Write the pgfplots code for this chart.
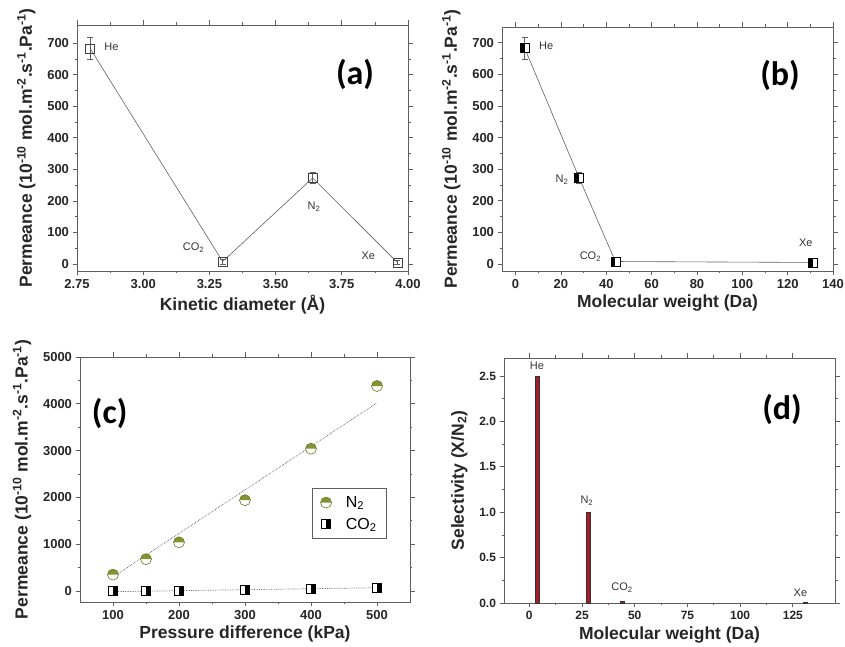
\documentclass[border=0pt]{standalone}
\usepackage{fontspec}
\setmainfont{Liberation Sans}
\newfontfamily\panelfont{Carlito}
\usepackage{pgfplots}
\pgfplotsset{compat=1.18}

\definecolor{axgray}{RGB}{95,95,95}
\definecolor{olive}{RGB}{128,148,48}
\definecolor{barred}{RGB}{165,28,40}

% half-filled marks
\pgfdeclareplotmark{sqleft}{%
  \pgfpathrectangle{\pgfpoint{-\pgfplotmarksize}{-\pgfplotmarksize}}{\pgfpoint{2\pgfplotmarksize}{2\pgfplotmarksize}}%
  \pgfsetfillcolor{white}\pgfusepath{fill}%
  \pgfpathrectangle{\pgfpoint{-\pgfplotmarksize}{-\pgfplotmarksize}}{\pgfpoint{\pgfplotmarksize}{2\pgfplotmarksize}}%
  \pgfsetfillcolor{black}\pgfusepath{fill}%
  \pgfpathrectangle{\pgfpoint{-\pgfplotmarksize}{-\pgfplotmarksize}}{\pgfpoint{2\pgfplotmarksize}{2\pgfplotmarksize}}%
  \pgfusepath{stroke}}
\pgfdeclareplotmark{sqright}{%
  \pgfpathrectangle{\pgfpoint{-\pgfplotmarksize}{-\pgfplotmarksize}}{\pgfpoint{2\pgfplotmarksize}{2\pgfplotmarksize}}%
  \pgfsetfillcolor{white}\pgfusepath{fill}%
  \pgfpathrectangle{\pgfpoint{0pt}{-\pgfplotmarksize}}{\pgfpoint{\pgfplotmarksize}{2\pgfplotmarksize}}%
  \pgfsetfillcolor{black}\pgfusepath{fill}%
  \pgfpathrectangle{\pgfpoint{-\pgfplotmarksize}{-\pgfplotmarksize}}{\pgfpoint{2\pgfplotmarksize}{2\pgfplotmarksize}}%
  \pgfusepath{stroke}}
\pgfdeclareplotmark{circtop}{%
  \pgfpathcircle{\pgfpointorigin}{\pgfplotmarksize}%
  \pgfsetfillcolor{white}\pgfusepath{fill}%
  \pgfpathmoveto{\pgfpoint{-\pgfplotmarksize}{0pt}}%
  \pgfpatharc{180}{0}{\pgfplotmarksize}%
  \pgfpathclose
  \pgfsetfillcolor{olive}\pgfusepath{fill}%
  \pgfpathcircle{\pgfpointorigin}{\pgfplotmarksize}%
  \pgfusepath{stroke}}

\tikzset{
  ann/.style={font=\fontsize{11}{11}\selectfont, text=black!80},
  plabel/.style={font=\panelfont\bfseries\fontsize{34}{34}\selectfont},
}

\pgfplotsset{
  panel/.style={
    scale only axis, width=331pt, height=245pt,
    axis line style={draw=axgray, line width=0.9pt},
    tick align=outside, major tick length=4.5pt, minor tick length=2.5pt,
    every tick/.style={axgray, line width=0.8pt},
    tick label style={font=\bfseries\fontsize{13}{13}\selectfont, text=black!85},
    label style={font=\bfseries\fontsize{17.5}{18}\selectfont, text=black!85},
    ylabel shift=5pt,
    /pgf/number format/assume math mode=true,
    /pgf/number format/1000 sep={},
    minor x tick num=1, minor y tick num=1,
    clip=false,
  },
  permlabel/.style={ylabel={Permeance (10\textsuperscript{-10} mol.m\textsuperscript{-2}.s\textsuperscript{-1}.Pa\textsuperscript{-1})}},
  errs/.style={error bars/.cd, y dir=both, y explicit,
    error bar style={axgray, line width=0.6pt}, error mark options={rotate=90, mark size=3pt, axgray, line width=0.6pt}},
}

\begin{document}
\begin{tikzpicture}
\path[use as bounding box] (0,0) rectangle (845pt,647pt);

% (a)
\begin{axis}[panel, at={(77pt,376pt)}, anchor=south west, height=246pt,
  xmin=2.75, xmax=4.0, ymin=-22, ymax=758,
  xtick={2.75,3.00,3.25,3.50,3.75,4.00},
  xticklabel style={/pgf/number format/.cd, fixed, fixed zerofill, precision=2},
  ytick={0,100,200,300,400,500,600,700},
  xlabel={Kinetic diameter (Å)}, permlabel]
\addplot[axgray, line width=0.6pt, mark=square, mark size=4.5pt,
  mark options={draw=black!75, fill=white, line width=0.6pt}, errs]
  coordinates {(2.80,683) +- (0,35) (3.30,8) +- (0,8) (3.64,273) +- (0,18) (3.96,5) +- (0,6)};
\node[ann] at (axis cs:2.88,690) {He};
\node[ann] at (axis cs:3.19,52) {CO\textsubscript{2}};
\node[ann] at (axis cs:3.645,181) {N\textsubscript{2}};
\node[ann] at (axis cs:3.85,26) {Xe};
\node[plabel] at (rel axis cs:0.84,0.8) {(a)};
\end{axis}

% (b)
\begin{axis}[panel, at={(502pt,376pt)}, anchor=south west, height=244pt,
  xmin=-6, xmax=140, ymin=-22, ymax=750,
  xtick={0,20,40,60,80,100,120,140},
  ytick={0,100,200,300,400,500,600,700},
  xlabel={Molecular weight (Da)}, permlabel]
\addplot[axgray, line width=0.6pt, mark=sqleft, mark size=4.5pt,
  mark options={draw=black, line width=0.6pt}, errs]
  coordinates {(4,683) +- (0,35) (28,273) +- (0,18) (44,8) +- (0,8) (131,5) +- (0,6)};
\node[ann] at (axis cs:13.5,690) {He};
\node[ann] at (axis cs:20.5,267) {N\textsubscript{2}};
\node[ann] at (axis cs:33,23) {CO\textsubscript{2}};
\node[ann] at (axis cs:128,68) {Xe};
\node[plabel] at (rel axis cs:0.84,0.8) {(b)};
\end{axis}

% (c)
\begin{axis}[panel, at={(80pt,45pt)}, anchor=south west, width=330pt,
  xmin=50, xmax=550, ymin=-235, ymax=5000,
  xtick={100,200,300,400,500}, ytick={0,1000,2000,3000,4000,5000},
  xlabel={Pressure difference (kPa)}, permlabel,
  legend style={at={(0.93,0.465)}, anchor=north east, draw=axgray, line width=0.6pt,
    font=\fontsize{16}{16}\selectfont, row sep=5pt, inner xsep=8pt, inner ysep=6pt,
    /tikz/every odd column/.style={column sep=12pt}},
  legend cell align=left]
\addplot[axgray, densely dotted, line width=0.7pt, forget plot] coordinates {(100,300) (500,4020)};
\addplot[axgray, densely dotted, line width=0.7pt, forget plot] coordinates {(100,-15) (500,70)};
\addplot[only marks, mark=circtop, mark size=5.5pt, mark options={draw=olive!80!black, line width=0.6pt}]
  coordinates {(100,350) (150,680) (200,1040) (300,1940) (400,3040) (500,4380)};
\addlegendentry{N\textsubscript{2}}
\addplot[only marks, mark=sqright, mark size=4.5pt, mark options={draw=black, line width=0.6pt}]
  coordinates {(100,0) (150,2) (200,8) (300,22) (400,42) (500,70)};
\addlegendentry{CO\textsubscript{2}}
\node[plabel] at (rel axis cs:0.09,0.77) {(c)};
\end{axis}

% (d)
\begin{axis}[panel, at={(504pt,44pt)}, anchor=south west,
  xmin=-12, xmax=145, ymin=0, ymax=2.7,
  xtick={0,25,50,75,100,125}, ytick={0,0.5,1.0,1.5,2.0,2.5},
  yticklabel style={/pgf/number format/.cd, fixed, fixed zerofill, precision=1},
  tick label style={font=\bfseries\fontsize{12}{12}\selectfont},
  xlabel={Molecular weight (Da)}, ylabel={Selectivity (X/N\textsubscript{2})},
  ybar, bar width=4pt]
\addplot[fill=barred, draw=black!80, line width=0.5pt]
  coordinates {(4,2.5) (28,1.0) (44,0.02) (131,0.005)};
\node[ann] at (axis cs:3.6,2.61) {He};
\node[ann] at (axis cs:27.3,1.13) {N\textsubscript{2}};
\node[ann] at (axis cs:44,0.17) {CO\textsubscript{2}};
\node[ann] at (axis cs:128.6,0.11) {Xe};
\node[plabel] at (rel axis cs:0.84,0.79) {(d)};
\end{axis}
\end{tikzpicture}
\end{document}
